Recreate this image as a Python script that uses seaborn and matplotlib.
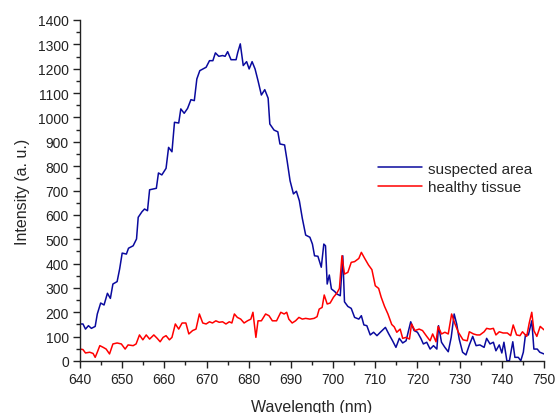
import numpy as np
import pandas as pd
import matplotlib
matplotlib.use("Agg")
import matplotlib.pyplot as plt
from matplotlib.ticker import MultipleLocator
import seaborn as sns

# ---- data ----
wl_suspected = [640.0, 640.7, 641.3, 642.0, 642.7, 643.6, 644.1, 644.9, 645.7, 646.5, 647.2, 647.8,
                648.8, 649.4, 650.0, 651.0, 651.5, 652.6, 653.4, 653.8, 654.7, 655.3, 656.0, 656.5,
                658.1, 658.6, 659.4, 660.4, 661.0, 661.8, 662.4, 663.4, 663.9, 664.7, 665.5, 666.3,
                667.1, 667.7, 668.4, 669.9, 670.7, 671.5, 672.1, 672.9, 673.8, 674.4, 675.0, 675.8,
                677.0, 677.4, 678.0, 678.7, 679.5, 680.1, 680.8, 681.5, 682.2, 683.0, 683.8, 684.6,
                685.0, 686.0, 686.9, 687.4, 688.5, 689.1, 689.8, 690.6, 691.3, 692.0, 692.7, 693.5,
                694.5, 695.1, 695.6, 696.4, 697.2, 697.8, 698.2, 698.6, 699.1, 699.6, 700.4, 700.9,
                701.7, 702.3, 702.7, 703.5, 704.3, 705.1, 706.1, 706.7, 707.3, 708.0, 708.8, 709.6,
                710.4, 711.2, 712.4, 713.2, 714.1, 714.9, 715.7, 716.5, 717.3, 718.4, 719.2, 720.0,
                720.8, 721.4, 722.2, 723.0, 723.8, 724.6, 725.0, 725.7, 726.5, 727.3, 728.0, 728.7,
                729.3, 729.9, 730.7, 731.5, 732.3, 733.1, 733.9, 734.8, 735.8, 736.4, 737.2, 738.0,
                738.6, 739.4, 740.0, 740.5, 741.2, 741.8, 742.6, 743.1, 743.9, 744.5, 745.1, 745.6,
                746.3, 747.1, 747.6, 748.4, 749.0, 750.0]
int_suspected = [152, 152, 131, 145, 134, 142, 193, 238, 230, 278, 257, 316,
                 326, 378, 443, 439, 463, 473, 501, 590, 613, 624, 617, 703,
                 709, 772, 764, 791, 877, 859, 980, 977, 1035, 1017, 1037, 1073,
                 1069, 1158, 1192, 1206, 1233, 1233, 1265, 1251, 1254, 1251, 1270, 1237,
                 1237, 1267, 1302, 1213, 1229, 1199, 1229, 1199, 1151, 1092, 1114, 1079,
                 973, 948, 941, 891, 887, 822, 740, 686, 697, 658, 586, 517,
                 508, 480, 432, 430, 385, 480, 473, 316, 353, 296, 285, 275,
                 268, 432, 243, 224, 216, 179, 172, 186, 148, 145, 107, 118,
                 104, 118, 138, 111, 83, 56, 93, 74, 83, 161, 125, 118,
                 93, 70, 77, 49, 63, 49, 145, 77, 56, 38, 97, 193,
                 152, 90, 36, 25, 66, 101, 63, 66, 56, 93, 70, 77,
                 42, 66, 33, 77, 1, 1, 79, 15, 15, 1, 36, 107,
                 107, 165, 49, 49, 36, 29]

wl_healthy = [640.0, 640.7, 641.3, 642.3, 643.1, 643.6, 644.1, 644.7, 645.5, 646.2, 647.0, 647.8,
              648.8, 649.8, 650.7, 651.4, 652.6, 653.3, 654.1, 654.9, 655.7, 656.5, 657.5, 658.3,
              659.0, 659.7, 660.4, 661.2, 661.8, 662.6, 663.4, 664.2, 665.1, 665.8, 666.7, 667.5,
              668.3, 669.1, 669.9, 670.7, 671.4, 672.2, 673.0, 673.8, 674.6, 675.4, 676.0, 676.6,
              677.3, 678.1, 678.9, 679.7, 680.5, 681.0, 681.7, 682.2, 683.0, 684.0, 684.8, 685.6,
              686.6, 687.6, 688.4, 689.0, 689.5, 690.3, 691.1, 691.9, 692.7, 693.5, 694.5, 695.5,
              696.2, 696.7, 697.4, 697.9, 698.6, 699.3, 700.1, 700.9, 701.5, 702.1, 702.7, 703.5,
              704.3, 705.1, 706.1, 706.7, 707.5, 708.4, 709.2, 710.0, 710.8, 711.4, 712.2, 713.0,
              713.9, 714.5, 715.1, 715.9, 716.5, 717.3, 718.1, 718.6, 719.4, 720.4, 721.2, 722.2,
              723.0, 723.6, 724.4, 724.9, 725.7, 726.5, 727.3, 728.1, 728.9, 729.7, 730.8, 731.8,
              732.3, 733.3, 734.1, 734.8, 735.8, 736.4, 737.2, 738.0, 738.6, 739.4, 740.3, 741.3,
              742.1, 742.7, 743.5, 744.3, 744.9, 745.9, 746.5, 747.1, 747.6, 748.3, 749.1, 750.0]
int_healthy = [49, 47, 33, 36, 31, 15, 36, 63, 56, 49, 29, 70,
               74, 70, 49, 66, 63, 70, 107, 87, 107, 90, 107, 93,
               79, 97, 104, 87, 97, 152, 131, 156, 156, 111, 125, 131,
               193, 156, 152, 161, 156, 165, 159, 161, 152, 161, 156, 193,
               179, 172, 156, 165, 172, 200, 97, 165, 165, 193, 186, 165,
               165, 200, 193, 200, 172, 156, 165, 179, 172, 175, 172, 175,
               182, 213, 220, 271, 234, 238, 262, 279, 298, 432, 357, 364,
               405, 408, 421, 446, 421, 394, 375, 309, 298, 262, 224, 193,
               150, 140, 118, 131, 93, 97, 90, 152, 125, 131, 125, 101,
               83, 111, 79, 142, 111, 118, 111, 193, 152, 118, 87, 83,
               120, 111, 107, 107, 120, 134, 131, 134, 107, 120, 115, 115,
               104, 148, 107, 104, 120, 101, 156, 200, 125, 101, 142, 128]

labels = ["suspected area", "healthy tissue"]
colors = ["#0A0A9E", "#FF0000"]

df = pd.concat([
    pd.DataFrame({"Wavelength": wl_suspected, "Intensity": int_suspected, "series": labels[0]}),
    pd.DataFrame({"Wavelength": wl_healthy, "Intensity": int_healthy, "series": labels[1]}),
])

sns.set_style("ticks")
plt.rcParams["font.family"] = ["Liberation Sans", "DejaVu Sans"]

fig = plt.figure(figsize=(5.57, 4.14), dpi=100)
ax = fig.add_axes([80 / 557, 1 - 362 / 414, 464 / 557, 341 / 414])

sns.lineplot(data=df, x="Wavelength", y="Intensity", hue="series", hue_order=labels,
             palette=colors, linewidth=1.1, ax=ax, sort=False, estimator=None)

ax.set_xlim(640, 750)
ax.set_ylim(0, 1400)
ax.xaxis.set_major_locator(MultipleLocator(10))
ax.xaxis.set_minor_locator(MultipleLocator(5))
ax.yaxis.set_major_locator(MultipleLocator(100))
ax.yaxis.set_minor_locator(MultipleLocator(50))
ax.tick_params(which="major", length=5, width=1, labelsize=10, colors="#222222", pad=3)
ax.tick_params(which="minor", length=3, width=1, colors="#222222")
for s in ["left", "bottom"]:
    ax.spines[s].set_color("#222222")
    ax.spines[s].set_linewidth(1)
sns.despine(ax=ax)

ax.set_xlabel("Wavelength (nm)", fontsize=11.5, labelpad=9)
ax.set_ylabel("Intensity (a. u.)", fontsize=11.5, labelpad=6)

leg = ax.legend(frameon=False, fontsize=11, loc="center left",
                bbox_to_anchor=((372 - 80) / 464, (362 - 179) / 341),
                handlelength=2.9, handletextpad=0.35, labelspacing=0.3, borderaxespad=0)
for line in leg.get_lines():
    line.set_linewidth(1.1)

fig.savefig("out.png", dpi=100)
